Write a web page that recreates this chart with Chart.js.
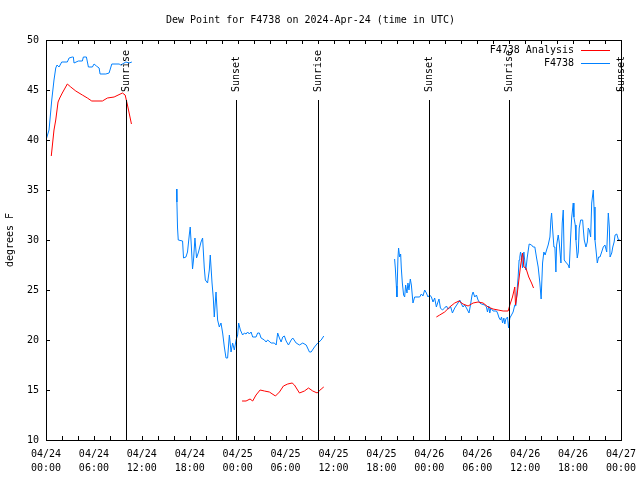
<!DOCTYPE html>
<html>
<head>
<meta charset="utf-8">
<script src="https://cdn.jsdelivr.net/npm/chart.js@4.4.1/dist/chart.umd.min.js"></script>
<style>
  html, body { margin: 0; padding: 0; background: #fff; }
  canvas { display: block; }
</style>
</head>
<body>
<canvas id="dewChart" width="640" height="480"></canvas>
<script>
// hours since 04/24 00:00 UTC; null value = gap in the record
const obsHours = [
  0.0, 0.38, 0.72, 1.0, 1.22, 1.38, 1.63, 1.97, 2.67, 2.89, 3.3, 3.42, 3.51, 4.05, 4.55, 4.68, 5.06, 5.31,
  5.81, 6.02, 6.31, 6.65, 6.77, 7.49, 7.9, 8.24, 9.16, 9.37, 10.0, 10.41, 10.75,
  13.0,
  16.34, 16.39, 16.47, 16.56, 17.1, 17.22, 17.52, 17.72, 17.94, 18.06, 18.19, 18.35, 18.48, 18.65, 18.85,
  19.1, 19.41, 19.61, 19.82, 19.95, 20.23, 20.45, 20.57, 20.79, 20.95, 21.07, 21.29, 21.49, 21.7, 21.91,
  22.12, 22.33, 22.54, 22.74, 22.96, 23.17, 23.37, 23.58, 23.8, 24.0, 24.12, 24.34, 24.62, 24.84, 25.05,
  25.25, 25.46, 25.68, 25.88, 26.3, 26.5, 26.72, 26.93, 27.35, 27.56, 27.76, 28.19, 28.6, 28.82, 29.01,
  29.23, 29.44, 29.64, 29.85, 30.07, 30.36, 30.7, 30.9, 31.32, 31.74, 32.15, 32.58, 32.99, 33.2, 33.62,
  34.03, 34.46, 34.78,
  39.0,
  43.65, 43.74, 43.87, 43.94, 44.07, 44.15, 44.28, 44.41, 44.49, 44.62, 44.78, 44.91, 45.03, 45.2, 45.32,
  45.45, 45.62, 45.75, 45.95, 46.16, 46.79, 47.0, 47.2, 47.42, 47.63, 47.83, 48.04, 48.26, 48.46, 48.67,
  48.88, 49.08, 49.21, 49.39, 49.64, 49.92, 50.14, 50.34, 50.68, 50.89, 51.18, 51.59, 51.81, 52.02, 52.22,
  52.43, 52.65, 52.97, 53.15, 53.35, 53.48, 53.69, 53.9, 54.1, 54.32, 54.53, 54.94, 55.15, 55.28, 55.44,
  55.57, 55.7, 55.98, 56.41, 56.54, 56.74, 56.91, 57.04, 57.17, 57.33, 57.45, 57.58, 57.79, 57.92, 58.08,
  58.29, 58.49, 58.7, 58.83, 58.99, 59.12, 59.24, 59.33, 59.42, 59.55, 59.67, 59.84, 59.96, 60.09, 60.25,
  60.5, 60.8, 61.0, 61.21, 61.43, 61.63, 61.84, 62.0, 62.18, 62.34, 62.5, 62.68, 62.88, 63.1, 63.22,
  63.31, 63.43, 63.6, 63.72, 63.85, 63.94, 64.14, 64.26, 64.48, 64.64, 64.77, 64.89, 65.07, 65.39, 65.52,
  65.69, 65.82, 65.94, 66.02, 66.1, 66.27, 66.36, 66.52, 66.65, 66.77, 66.95, 67.2, 67.27, 67.4, 67.61,
  67.78, 67.9, 68.03, 68.2, 68.33, 68.53, 68.62, 68.74, 68.87, 69.03, 69.2, 69.37, 69.58, 69.78, 69.99,
  70.21, 70.41, 70.54, 70.63, 70.84, 70.97, 71.14, 71.26, 71.47, 71.68, 71.8
];
const obsDew = [
  40.0, 41.0, 44.0, 46.0, 47.2, 47.5, 47.3, 47.8, 47.8, 48.2, 48.3, 48.3, 47.7, 47.9, 47.9, 48.3, 48.3, 47.3,
  47.3, 47.6, 47.4, 47.2, 46.6, 46.6, 46.7, 47.6, 47.6, 47.5, 47.8, 47.7, 47.8,
  null,
  35.1, 33.8, 31.2, 30.0, 29.9, 28.2, 28.3, 28.8, 30.5, 31.3, 29.5, 27.1, 28.1, 30.2, 28.2,
  28.8, 29.8, 30.2, 27.2, 26.0, 25.7, 27.0, 28.5, 25.7, 24.2, 22.3, 24.8, 22.0, 21.3, 21.7,
  20.7, 19.3, 18.2, 18.2, 20.5, 18.8, 19.7, 19.0, 20.0, 20.5, 21.7, 21.0, 20.5, 20.7, 20.6,
  20.8, 20.6, 20.8, 20.3, 20.3, 20.7, 20.7, 20.2, 20.0, 19.8, 20.0, 19.7, 19.7, 19.5, 20.7,
  20.2, 19.8, 20.3, 20.4, 19.9, 19.5, 20.0, 20.2, 19.7, 19.5, 19.7, 19.5, 18.8, 18.8, 19.3,
  19.7, 20.0, 20.4,
  null,
  28.1, 27.2, 25.4, 24.3, 28.2, 29.2, 28.3, 28.6, 27.2, 25.7, 24.5, 24.3, 25.5, 24.7, 25.7,
  25.0, 26.1, 25.5, 23.7, 24.3, 24.3, 24.6, 24.4, 25.0, 24.7, 24.3, 24.5, 24.3, 23.8, 24.2,
  23.3, 23.8, 24.1, 23.2, 23.0, 23.2, 23.4, 23.1, 23.3, 22.7, 23.2, 23.7, 24.0, 23.6, 23.3,
  23.5, 23.2, 22.7, 23.5, 24.5, 24.8, 24.3, 24.5, 24.0, 23.7, 23.6, 23.5, 23.3, 22.8, 23.4,
  22.7, 23.2, 22.9, 22.9, 22.7, 22.2, 22.0, 22.3, 21.7, 22.2, 21.6, 22.1, 22.3, 21.2, 22.2,
  22.5, 22.8, 23.5, 23.4, 25.0, 26.3, 28.0, 28.3, 28.8, 28.3, 27.2, 28.8, 27.8, 27.0, 28.2,
  29.6, 29.5, 29.3, 29.3, 28.2, 27.3, 25.7, 24.1, 27.7, 28.8, 28.5, 29.0, 29.5, 30.3, 32.0,
  32.7, 31.2, 29.3, 29.3, 26.8, 29.5, 30.5, 29.8, 27.7, 31.7, 33.0, 28.0, 27.8, 27.5, 27.2,
  30.2, 32.2, 33.1, 33.7, 32.3, 31.5, 30.0, 28.2, 28.8, 31.2, 32.0, 32.0, 31.2, 30.0, 29.3,
  29.8, 31.2, 31.0, 30.3, 33.7, 35.0, 33.3, 30.0, 29.0, 27.7, 28.3, 28.3, 28.8, 29.3, 29.5,
  28.8, 32.7, 31.3, 28.3, 28.7, 29.3, 29.8, 30.5, 30.6, 30.0, 30.1
];

const anaHours = [
  0.66, 1.0, 1.22, 1.51, 1.72, 2.04, 2.67, 3.1, 3.73, 4.55, 5.18, 5.73, 7.06, 7.69, 8.53, 9.57, 9.91, 10.2, 10.7,
  17.0,
  24.55, 25.05, 25.55, 25.88, 26.3, 26.81, 27.35, 27.97, 28.73, 29.23, 29.73, 30.27, 30.82, 31.11, 31.74,
  32.36, 32.87, 33.4, 33.96, 34.46, 34.78,
  42.0,
  48.88, 49.3, 49.92, 50.55, 51.18, 51.72, 52.22, 52.85, 53.48, 54.1, 54.73, 55.36, 55.98, 56.61, 57.24,
  57.87, 58.08, 58.41, 58.7, 58.79, 58.99, 59.24, 59.42, 59.67, 59.84, 60.09, 60.45, 60.8, 61.05
];
const anaDew = [
  38.4, 41.0, 42.0, 43.8, 44.2, 44.7, 45.6, 45.3, 44.9, 44.5, 44.2, 43.9, 43.9, 44.2, 44.3, 44.7, 44.5, 43.5, 41.6,
  null,
  13.9, 13.9, 14.1, 13.9, 14.5, 15.0, 14.9, 14.8, 14.4, 14.8, 15.4, 15.6, 15.7, 15.5, 14.7,
  14.9, 15.2, 14.9, 14.7, 15.1, 15.3,
  null,
  22.3, 22.5, 22.8, 23.3, 23.7, 23.9, 23.6, 23.4, 23.7, 23.8, 23.7, 23.3, 23.1, 23.0, 22.9,
  22.9, 23.5, 24.3, 25.3, 23.5, 24.5, 26.2, 27.4, 28.7, 27.3, 27.2, 26.3, 25.7, 25.2
];

const sunHours = [10, 23.85, 34, 48, 58, 72];
const sunLabels = ['Sunrise', 'Sunset', 'Sunrise', 'Sunset', 'Sunrise', 'Sunset'];
const dayLabels = ['04/24', '04/24', '04/24', '04/24', '04/25', '04/25', '04/25', '04/25', '04/26', '04/26', '04/26', '04/26', '04/27'];
const hourLabels = ['00:00', '06:00', '12:00', '18:00'];

const FONT = "'DejaVu Sans Mono', 'Liberation Mono', monospace";
const RED = '#ff0000';
const BLUE = 'rgb(0,128,255)';

function toPoints(hours, vals) {
  return hours.map((h, i) => ({ x: h, y: vals[i] }));
}

// gnuplot-ish frame: box, inward ticks, sun lines, legend
const framePlugin = {
  id: 'frame',
  afterDatasetsDraw(chart) {
    const { ctx, chartArea: a, scales: { x, y } } = chart;
    ctx.save();
    ctx.strokeStyle = '#000';
    ctx.lineWidth = 1;

    // ticks
    ctx.beginPath();
    for (let h = 0; h <= 72; h += 2) {
      const px = Math.round(x.getPixelForValue(h)) + 0.5;
      ctx.moveTo(px, a.bottom); ctx.lineTo(px, a.bottom - 4);
      ctx.moveTo(px, a.top); ctx.lineTo(px, a.top + 4);
    }
    for (let v = 10; v <= 50; v += 5) {
      const py = Math.round(y.getPixelForValue(v)) + 0.5;
      ctx.moveTo(a.left, py); ctx.lineTo(a.left + 4, py);
      ctx.moveTo(a.right, py); ctx.lineTo(a.right - 4, py);
    }
    ctx.stroke();

    // sunrise / sunset markers
    ctx.font = '10px ' + FONT;
    ctx.fillStyle = '#000';
    sunHours.forEach((h, i) => {
      const px = Math.round(x.getPixelForValue(h)) + 0.5;
      ctx.beginPath();
      ctx.moveTo(px, a.top + 60);
      ctx.lineTo(px, a.bottom);
      ctx.stroke();
      ctx.save();
      ctx.translate(px, a.top + 52);
      ctx.rotate(-Math.PI / 2);
      ctx.textAlign = 'left';
      ctx.textBaseline = 'middle';
      ctx.fillText(sunLabels[i], 0, 0);
      ctx.restore();
    });

    // box
    ctx.strokeRect(Math.round(a.left) + 0.5, Math.round(a.top) + 0.5,
      Math.round(a.right - a.left), Math.round(a.bottom - a.top));

    // legend
    const items = [['F4738 Analysis', RED], ['F4738', BLUE]];
    ctx.textAlign = 'right';
    ctx.textBaseline = 'middle';
    items.forEach((it, i) => {
      const ly = a.top + 10 + i * 13;
      ctx.fillStyle = '#000';
      ctx.fillText(it[0], a.right - 47, ly);
      ctx.strokeStyle = it[1];
      ctx.beginPath();
      ctx.moveTo(a.right - 40, ly + 0.5);
      ctx.lineTo(a.right - 11, ly + 0.5);
      ctx.stroke();
    });
    ctx.restore();
  }
};

new Chart(document.getElementById('dewChart'), {
  type: 'line',
  data: {
    datasets: [
      {
        label: 'F4738 Analysis',
        data: toPoints(anaHours, anaDew),
        borderColor: RED,
        borderWidth: 1,
        pointRadius: 0,
        tension: 0,
        spanGaps: false
      },
      {
        label: 'F4738',
        data: toPoints(obsHours, obsDew),
        borderColor: BLUE,
        borderWidth: 1,
        pointRadius: 0,
        tension: 0,
        spanGaps: false
      }
    ]
  },
  options: {
    responsive: false,
    animation: false,
    layout: { padding: { left: 0, right: 19, top: 0, bottom: 0 } },
    plugins: {
      legend: { display: false },
      tooltip: { enabled: false },
      title: {
        display: true,
        text: 'Dew Point for F4738 on 2024-Apr-24 (time in UTC)',
        color: '#000',
        font: { family: FONT, size: 10, weight: 'normal' },
        padding: { top: 14, bottom: 14 }
      }
    },
    scales: {
      x: {
        type: 'linear',
        min: 0,
        max: 72,
        grid: { display: false, drawTicks: false },
        border: { display: false },
        afterFit(scale) {
          scale.height = 40;
          scale.paddingLeft = 0;
          scale.paddingRight = 0;
        },
        afterBuildTicks(scale) {
          scale.ticks = dayLabels.map((d, i) => ({ value: i * 6 }));
        },
        ticks: {
          autoSkip: false,
          maxRotation: 0,
          padding: 7,
          color: '#000',
          font: { family: FONT, size: 10, lineHeight: 1.4 },
          callback: (v) => [dayLabels[v / 6], hourLabels[(v / 6) % 4]]
        }
      },
      y: {
        min: 10,
        max: 50,
        grid: { display: false, drawTicks: false },
        border: { display: false },
        afterFit(scale) {
          scale.width = 46;
          scale.paddingTop = 0;
          scale.paddingBottom = 0;
        },
        ticks: {
          stepSize: 5,
          padding: 7,
          color: '#000',
          font: { family: FONT, size: 10 }
        },
        title: {
          display: true,
          text: 'degrees F',
          color: '#000',
          font: { family: FONT, size: 10 },
          padding: 4
        }
      }
    }
  },
  plugins: [framePlugin]
});
</script>
</body>
</html>
